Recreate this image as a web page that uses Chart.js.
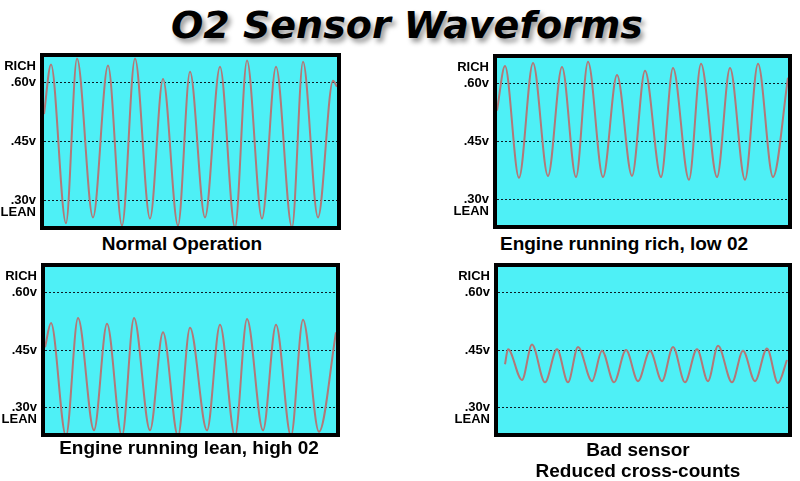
<!DOCTYPE html>
<html>
<head>
<meta charset="utf-8">
<script src="https://cdn.jsdelivr.net/npm/chart.js@4.4.1/dist/chart.umd.min.js"></script>
<style>
  body { margin: 0; width: 800px; height: 481px; background: #fff; position: relative; overflow: hidden; }
  canvas { position: absolute; }
  .title {
    position: absolute; left: 0; top: 3px; width: 814px; text-align: center;
    font: italic bold 38px/44px "DejaVu Sans", sans-serif; color: #000;
    text-shadow: 3px 4px 5px rgba(0,0,0,0.4);
  }
  .cap {
    position: absolute; text-align: center; color: #000;
    font: bold 19px/21px "Liberation Sans", Arial, sans-serif;
  }
</style>
</head>
<body>
<div class="title">O2 Sensor Waveforms</div>

<canvas id="normal" width="345" height="183" style="left:0px;top:50px"></canvas>
<canvas id="rich" width="343" height="181" style="left:453px;top:51px"></canvas>
<canvas id="lean" width="343" height="180" style="left:1px;top:260px"></canvas>
<canvas id="bad" width="342" height="180" style="left:454px;top:260px"></canvas>

<div class="cap" style="left:32px;width:300px;top:233px">Normal Operation</div>
<div class="cap" style="left:474px;width:300px;top:233px">Engine running rich, low 02</div>
<div class="cap" style="left:39px;width:300px;top:437px">Engine running lean, high 02</div>
<div class="cap" style="left:488px;width:300px;top:439px">Bad sensor<br>Reduced cross-counts</div>

<script>
// y axis labels
const tickValues = [0.269, 0.30, 0.45, 0.60, 0.641];
const tickLabels = ['LEAN', '.30v', '.45v', '.60v', 'RICH'];
const gridValues = [0.30, 0.45, 0.60];

// waveform peaks / troughs (time, volts)
const normalTime  = [0, 7, 22, 33, 49, 64, 78, 91, 106, 119, 134, 146, 161, 176, 191, 203, 218, 232, 248, 259, 274, 289, 293];
const normalVolts = [0.52, 0.647, 0.241, 0.662, 0.256, 0.644, 0.235, 0.662, 0.253, 0.610, 0.235, 0.628, 0.256, 0.641, 0.230, 0.657, 0.253, 0.641, 0.230, 0.654, 0.256, 0.605, 0.59];

const richTime  = [0, 8, 22, 36, 51, 65, 79, 91, 106, 120, 135, 148, 164, 176, 192, 204, 220, 233, 248, 261, 276, 291];
const richVolts = [0.530, 0.645, 0.356, 0.653, 0.361, 0.643, 0.358, 0.656, 0.358, 0.622, 0.361, 0.633, 0.358, 0.640, 0.351, 0.651, 0.358, 0.640, 0.351, 0.651, 0.358, 0.615];

const leanTime  = [0, 6, 21, 33, 49, 62, 77, 89, 105, 118, 133, 145, 162, 175, 190, 202, 218, 231, 246, 258, 274, 291];
const leanVolts = [0.457, 0.520, 0.226, 0.533, 0.241, 0.518, 0.226, 0.533, 0.241, 0.496, 0.226, 0.508, 0.241, 0.516, 0.226, 0.531, 0.241, 0.516, 0.226, 0.529, 0.237, 0.496];

const badTime  = [7, 10, 24, 34, 47, 59, 70, 80, 94, 104, 116, 128, 140, 152, 164, 175, 187, 199, 210, 220, 234, 245, 257, 269, 280, 289];
const badVolts = [0.413, 0.452, 0.372, 0.464, 0.366, 0.452, 0.366, 0.458, 0.369, 0.448, 0.366, 0.450, 0.369, 0.448, 0.369, 0.458, 0.366, 0.452, 0.369, 0.461, 0.366, 0.448, 0.369, 0.454, 0.364, 0.424];

// cyan screen + thick black frame around the plot area
const scopeBox = {
  id: 'scopeBox',
  beforeDraw(chart) {
    const { ctx, chartArea: a } = chart;
    ctx.save();
    ctx.fillStyle = '#4ef0f6';
    ctx.fillRect(a.left, a.top, a.width, a.height);
    ctx.restore();
  },
  afterDraw(chart) {
    const { ctx, chartArea: a } = chart;
    ctx.save();
    ctx.strokeStyle = '#000';
    ctx.lineWidth = 4;
    ctx.strokeRect(a.left - 2, a.top - 2, a.width + 4, a.height + 4);
    ctx.restore();
  }
};

function makeScope(id, times, volts, span) {
  const ctx = document.getElementById(id).getContext('2d');
  return new Chart(ctx, {
    type: 'line',
    data: {
      datasets: [{
        data: times.map((t, i) => ({ x: t, y: volts[i] })),
        borderColor: '#b27878',
        borderWidth: 2,
        pointRadius: 0,
        cubicInterpolationMode: 'monotone',
        fill: false
      }]
    },
    options: {
      responsive: false,
      animation: false,
      layout: { padding: { left: 0, top: 7, right: 8, bottom: 7 } },
      scales: {
        x: { type: 'linear', display: false, min: 0, max: span },
        y: {
          type: 'linear',
          min: 0.234,
          max: 0.666,
          afterBuildTicks: s => { s.ticks = tickValues.map(v => ({ value: v })); },
          afterFit: s => {
            s.width = 44;
            s.paddingTop = 0;     // labels near the edges must not shrink the screen
            s.paddingBottom = 0;
          },
          ticks: {
            autoSkip: false,
            padding: 8,
            color: '#000',
            font: { family: 'Liberation Sans', size: 13, weight: 'bold' },
            callback: (v, i) => tickLabels[i]
          },
          grid: {
            drawTicks: false,
            lineWidth: 1,
            color: c => (c.tick && gridValues.includes(c.tick.value)) ? '#0c1c26' : 'rgba(0,0,0,0)'
          },
          border: { display: false, dash: [2, 2] }
        }
      },
      plugins: {
        legend: { display: false },
        tooltip: { enabled: false }
      }
    },
    plugins: [scopeBox]
  });
}

makeScope('normal', normalTime, normalVolts, 293);
makeScope('rich', richTime, richVolts, 291);
makeScope('lean', leanTime, leanVolts, 291);
makeScope('bad', badTime, badVolts, 290);
</script>
</body>
</html>
